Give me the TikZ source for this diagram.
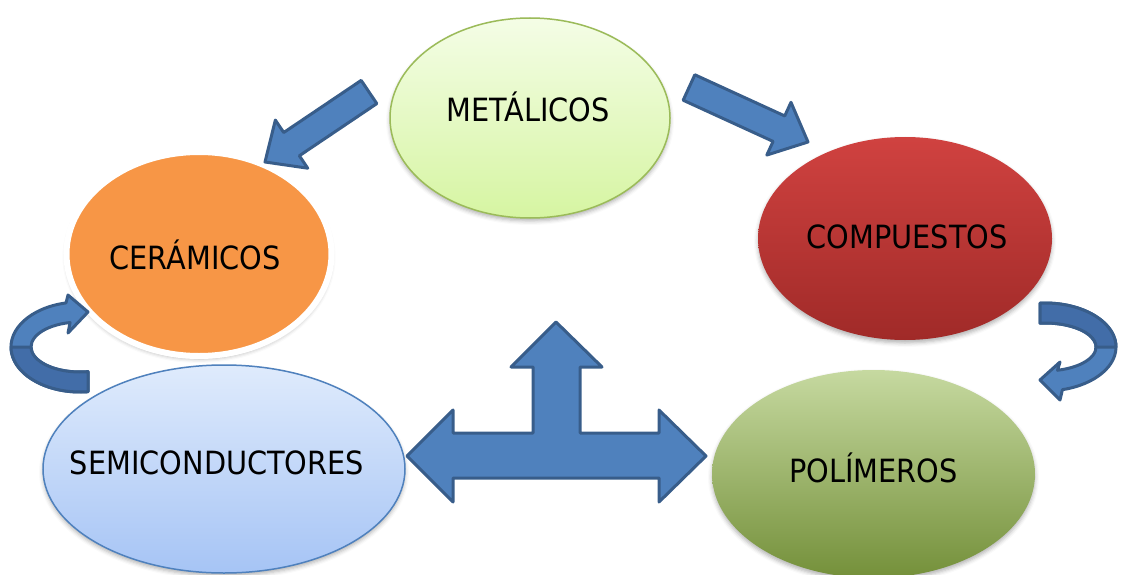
\documentclass[tikz,border=0pt]{standalone}
\usepackage{fontspec}
\setmainfont{DejaVu Sans}[FakeStretch=0.9]
\usetikzlibrary{shapes.geometric,calc,shadows.blur}
\definecolor{arrblue}{HTML}{4F81BD}
\definecolor{arrdark}{HTML}{426DA8}
\definecolor{arredge}{HTML}{385D8A}
\definecolor{metTop}{HTML}{F4FDE6}
\definecolor{metBot}{HTML}{D6F5A2}
\definecolor{metEdge}{HTML}{9BBB59}
\definecolor{cerFill}{HTML}{F79646}
\definecolor{compTop}{HTML}{D04240}
\definecolor{compBot}{HTML}{A02A28}
\definecolor{polTop}{HTML}{C6D9A0}
\definecolor{polBot}{HTML}{74903A}
\definecolor{semiTop}{HTML}{DFEBFC}
\definecolor{semiBot}{HTML}{A6C4F5}
\definecolor{semiEdge}{HTML}{4F81BD}
\tikzset{
  blob/.style={ellipse, inner sep=0pt,
    blur shadow={shadow xshift=0pt, shadow yshift=-3pt, shadow blur radius=4pt, shadow opacity=30}},
  every label/.style={font=\fontsize{32}{38}\selectfont, text height=23pt, text depth=0pt, inner sep=0pt},
  barrow/.style={fill=arrblue, draw=arredge, line width=3pt, line join=round},
  bback/.style={barrow, fill=arrdark},
}
\newcommand{\blockarrow}[2]{%
  \path ($(#2)!32pt!(#1)$) coordinate (h);
  \draw[barrow] ($(#1)!14pt!90:(#2)$) -- ($(h)!14pt!90:(#2)$) -- ($(h)!29pt!90:(#2)$) -- (#2)
    -- ($(h)!29pt!-90:(#2)$) -- ($(h)!14pt!-90:(#2)$) -- ($(#1)!14pt!-90:(#2)$) -- cycle;}
\begin{document}
\begin{tikzpicture}[x=1pt,y=-1pt]
\useasboundingbox (0,0) rectangle (1121,575);
\node[blob, minimum width=280pt, minimum height=200pt, top color=metTop, bottom color=metBot,
  draw=metEdge, line width=1.5pt, label={[xshift=-2pt,yshift=8pt]center:METÁLICOS}] (met) at (530,118) {};
\node[blob, minimum width=265pt, minimum height=204pt, fill=cerFill, draw=white, line width=6pt,
  label={[xshift=-4pt,yshift=-4pt]center:CERÁMICOS}] (cer) at (199,254) {};
\node[blob, minimum width=294pt, minimum height=203pt, top color=compTop, bottom color=compBot,
  label={[xshift=2pt,yshift=1.5pt]center:COMPUESTOS}] (comp) at (905,238.5) {};
\node[blob, minimum width=362pt, minimum height=208pt, top color=semiTop, bottom color=semiBot,
  draw=semiEdge, line width=1.5pt, label={[xshift=-7pt,yshift=6.5pt]center:SEMICONDUCTORES}] (semi) at (224,469) {};
\node[blob, minimum width=323pt, minimum height=208pt, top color=polTop, bottom color=polBot,
  label={[xshift=0pt,yshift=3pt]center:POLÍMEROS}] (pol) at (873.5,474) {};
\coordinate (metL) at (369,92);
\coordinate (cerT) at (265,162);
\coordinate (metR) at (689,87.5);
\coordinate (compT) at (808,142);
\blockarrow{metL}{cerT}
\blockarrow{metR}{compT}
\draw[barrow] ($(80,347)+(83.3:69 and 45)$) arc[start angle=83.3, end angle=258.3, x radius=69, y radius=45]
  -- (68,295) -- (88,312) -- (68,333)
  -- ($(80,347)+(258.3:49 and 25)$) arc[start angle=258.3, end angle=80.6, x radius=49, y radius=25] -- cycle;
\draw[bback] ($(80,347)+(83.3:69 and 45)$) arc[start angle=83.3, end angle=180, x radius=69, y radius=45]
  -- ($(80,347)+(180:49 and 25)$) arc[start angle=180, end angle=80.6, x radius=49, y radius=25] -- cycle;
\draw[barrow] ($(1045,347)+(266:71 and 44)$) arc[start angle=266, end angle=435.8, x radius=71, y radius=44]
  -- (1060,400) -- (1040,380) -- (1060,362)
  -- ($(1045,347)+(75.8:51 and 24)$) arc[start angle=75.8, end angle=-95.6, x radius=51, y radius=24] -- cycle;
\draw[bback] ($(1045,347)+(266:71 and 44)$) arc[start angle=266, end angle=360, x radius=71, y radius=44]
  -- ($(1045,347)+(0:51 and 24)$) arc[start angle=0, end angle=-95.6, x radius=51, y radius=24] -- cycle;
\draw[barrow] (407,456) -- (453,410) -- (453,433) -- (533,433) -- (533,367) -- (511,367) -- (556,322)
  -- (602,367) -- (580,367) -- (580,433) -- (659,433) -- (659,410) -- (706,456) -- (659,502)
  -- (659,478) -- (453,478) -- (453,502) -- cycle;
\end{tikzpicture}
\end{document}
